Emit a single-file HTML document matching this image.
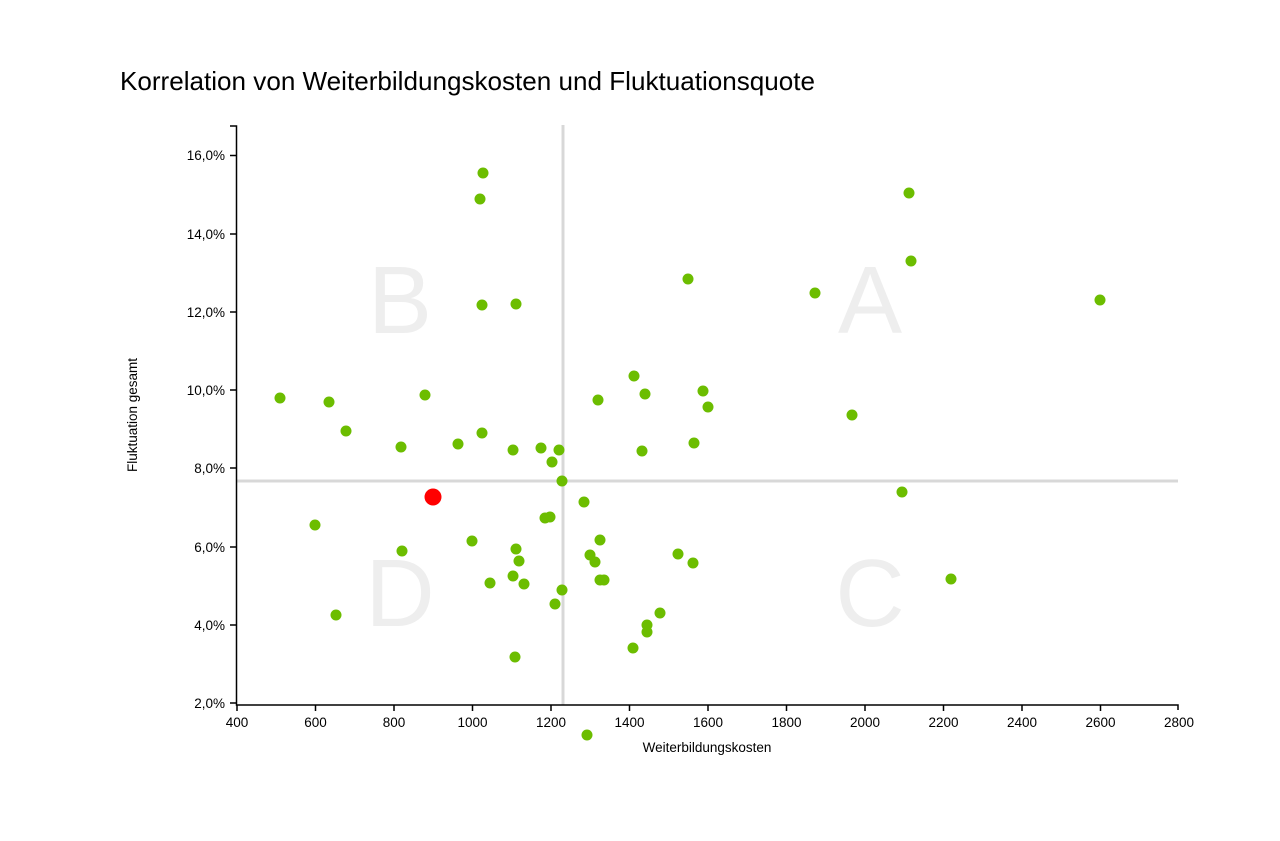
<!DOCTYPE html>
<html><head><meta charset="utf-8"><style>body{margin:0;background:#fff}svg{display:block}</style></head><body>
<svg width="1280" height="841" xmlns="http://www.w3.org/2000/svg" font-family="Liberation Sans, Arial, sans-serif">
<rect width="1280" height="841" fill="#fff"/>
<text x="120" y="90" font-size="26" fill="#000" textLength="695" lengthAdjust="spacingAndGlyphs">Korrelation von Weiterbildungskosten und Fluktuationsquote</text>
<g font-size="96" fill="#eeeeee" text-anchor="middle">
<text x="400" y="333">B</text><text x="870" y="333">A</text>
<text x="400" y="626">D</text><text x="870" y="626">C</text>
</g>
<line x1="563" y1="125" x2="563" y2="705" stroke="#d8d8d8" stroke-width="3"/>
<line x1="237" y1="481" x2="1178" y2="481" stroke="#d8d8d8" stroke-width="3"/>
<g stroke="#000" stroke-width="1.5" fill="none">
<path d="M230,126 H236.5 V705 H1178 V710"/>
<path d="M230,155.5H236 M230,234H236 M230,312H236 M230,390H236 M230,468H236 M230,547H236 M230,625H236 M230,703H236"/>
<path d="M237,705V711 M315.5,705V711 M394,705V711 M472.5,705V711 M551,705V711 M629.5,705V711 M708,705V711 M786.5,705V711 M865,705V711 M943.5,705V711 M1022,705V711 M1100.5,705V711"/>
</g>
<g font-size="13.5" text-anchor="end" fill="#000">
<text x="225" y="160">16,0%</text><text x="225" y="239">14,0%</text><text x="225" y="317">12,0%</text><text x="225" y="395">10,0%</text><text x="225" y="473">8,0%</text><text x="225" y="552">6,0%</text><text x="225" y="630">4,0%</text><text x="225" y="708">2,0%</text>
</g>
<g font-size="13.5" text-anchor="middle" fill="#000">
<text x="237" y="727">400</text><text x="315.5" y="727">600</text><text x="394" y="727">800</text><text x="472.5" y="727">1000</text><text x="551" y="727">1200</text><text x="629.5" y="727">1400</text><text x="708" y="727">1600</text><text x="786.5" y="727">1800</text><text x="865" y="727">2000</text><text x="943.5" y="727">2200</text><text x="1022" y="727">2400</text><text x="1100.5" y="727">2600</text><text x="1179" y="727">2800</text>
</g>
<text x="707" y="752" font-size="13.5" text-anchor="middle">Weiterbildungskosten</text>
<text transform="translate(137,415) rotate(-90)" font-size="13.5" text-anchor="middle">Fluktuation gesamt</text>
<g fill="#6cbd00">
<circle cx="280" cy="398" r="5.5"/><circle cx="329" cy="402" r="5.5"/><circle cx="346" cy="431" r="5.5"/><circle cx="401" cy="447" r="5.5"/><circle cx="425" cy="395" r="5.5"/><circle cx="458" cy="444" r="5.5"/><circle cx="482" cy="433" r="5.5"/><circle cx="513" cy="450" r="5.5"/><circle cx="541" cy="448" r="5.5"/><circle cx="552" cy="462" r="5.5"/><circle cx="559" cy="450" r="5.5"/><circle cx="562" cy="481" r="5.5"/><circle cx="483" cy="173" r="5.5"/><circle cx="480" cy="199" r="5.5"/><circle cx="482" cy="305" r="5.5"/><circle cx="516" cy="304" r="5.5"/>
<circle cx="598" cy="400" r="5.5"/><circle cx="634" cy="376" r="5.5"/><circle cx="645" cy="394" r="5.5"/><circle cx="642" cy="451" r="5.5"/><circle cx="688" cy="279" r="5.5"/><circle cx="694" cy="443" r="5.5"/><circle cx="703" cy="391" r="5.5"/><circle cx="708" cy="407" r="5.5"/><circle cx="815" cy="293" r="5.5"/><circle cx="852" cy="415" r="5.5"/><circle cx="909" cy="193" r="5.5"/><circle cx="911" cy="261" r="5.5"/><circle cx="1100" cy="300" r="5.5"/>
<circle cx="902" cy="492" r="5.5"/><circle cx="951" cy="579" r="5.5"/>
<circle cx="315" cy="525" r="5.5"/><circle cx="336" cy="615" r="5.5"/><circle cx="402" cy="551" r="5.5"/><circle cx="472" cy="541" r="5.5"/><circle cx="490" cy="583" r="5.5"/><circle cx="513" cy="576" r="5.5"/><circle cx="516" cy="549" r="5.5"/><circle cx="519" cy="561" r="5.5"/><circle cx="524" cy="584" r="5.5"/><circle cx="545" cy="518" r="5.5"/><circle cx="550" cy="517" r="5.5"/><circle cx="555" cy="604" r="5.5"/><circle cx="562" cy="590" r="5.5"/><circle cx="515" cy="657" r="5.5"/>
<circle cx="584" cy="502" r="5.5"/><circle cx="590" cy="555" r="5.5"/><circle cx="595" cy="562" r="5.5"/><circle cx="600" cy="540" r="5.5"/><circle cx="600" cy="580" r="5.5"/><circle cx="604" cy="580" r="5.5"/><circle cx="633" cy="648" r="5.5"/><circle cx="647" cy="625" r="5.5"/><circle cx="647" cy="632" r="5.5"/><circle cx="660" cy="613" r="5.5"/><circle cx="678" cy="554" r="5.5"/><circle cx="693" cy="563" r="5.5"/><circle cx="587" cy="735" r="5.5"/>
</g>
<circle cx="433" cy="497" r="8.5" fill="#ff0000"/>
</svg>
</body></html>
